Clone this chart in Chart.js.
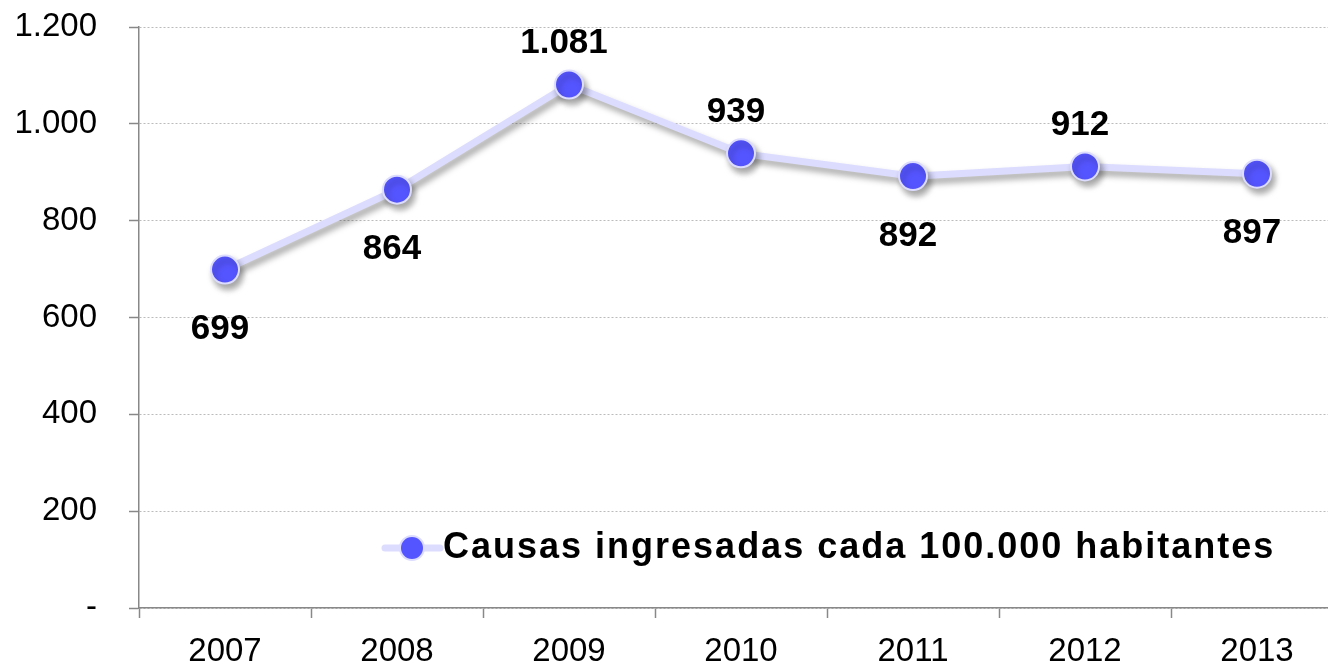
<!DOCTYPE html>
<html>
<head>
<meta charset="utf-8">
<script src="https://cdn.jsdelivr.net/npm/chart.js@4.4.0/dist/chart.umd.min.js"></script>
<style>
  html, body { margin: 0; padding: 0; background: #fff; overflow: hidden; }
</style>
</head>
<body>
<canvas id="causasChart" width="1359" height="665"></canvas>
<script>
// Chart data
const years = ['2007', '2008', '2009', '2010', '2011', '2012', '2013'];
const causas = [699, 864, 1081, 939, 892, 912, 897];
const labelSide = ['below', 'below', 'above', 'above', 'below', 'above', 'below'];
const seriesName = 'Causas ingresadas cada 100.000 habitantes';

const FONT = '"Liberation Sans", Arial, sans-serif';

function formatNumber(v) {
    if (v === 0) return '-';
    return String(v).replace(/\B(?=(\d{3})+(?!\d))/g, '.');
}

// shadow under the line and the points
const shadowPlugin = {
    id: 'shadow',
    beforeDatasetDraw(chart) {
        const c = chart.ctx;
        c.save();
        c.shadowColor = 'rgba(0,0,0,0.35)';
        c.shadowBlur = 6;
        c.shadowOffsetX = 3;
        c.shadowOffsetY = 5;
    },
    afterDatasetDraw(chart) {
        chart.ctx.restore();
    }
};

// value labels above / below points
const valueLabels = {
    id: 'valueLabels',
    afterDatasetsDraw(chart) {
        const c = chart.ctx;
        const meta = chart.getDatasetMeta(0);
        c.save();
        c.font = 'bold 35px ' + FONT;
        c.fillStyle = '#000';
        c.textAlign = 'center';
        c.textBaseline = 'middle';
        meta.data.forEach((pt, i) => {
            const dy = labelSide[i] === 'above' ? -41 : 60;
            c.fillText(formatNumber(causas[i]), pt.x - 5, pt.y + dy);
        });
        c.restore();
    }
};

// legend drawn inside the plot area
const insideLegend = {
    id: 'insideLegend',
    afterDraw(chart) {
        const c = chart.ctx;
        const area = chart.chartArea;
        const x = area.left + 246;
        const y = area.bottom - 60;
        c.save();
        c.strokeStyle = '#dcdcff';
        c.lineWidth = 7;
        c.lineCap = 'round';
        c.beginPath();
        c.moveTo(x, y);
        c.lineTo(x + 55, y);
        c.stroke();
        c.beginPath();
        c.arc(x + 27, y, 12, 0, Math.PI * 2);
        c.fillStyle = '#5555ff';
        c.fill();
        c.lineWidth = 2;
        c.strokeStyle = '#dcdcff';
        c.stroke();
        c.font = 'bold 36px ' + FONT;
        c.letterSpacing = '2px';
        c.fillStyle = '#000';
        c.textBaseline = 'middle';
        c.fillText(seriesName, x + 58, y);
        c.restore();
    }
};

const ctx = document.getElementById('causasChart').getContext('2d');
const causasChart = new Chart(ctx, {
    type: 'line',
    data: {
        labels: years,
        datasets: [{
            label: seriesName,
            data: causas,
            borderColor: '#dcdcff',
            borderWidth: 7,
            pointBackgroundColor: '#5555ff',
            pointBorderColor: '#dcdcff',
            pointBorderWidth: 2,
            pointRadius: 14,
            fill: false,
            tension: 0
        }]
    },
    options: {
        responsive: false,
        animation: false,
        layout: { padding: { top: 27, right: 2, left: 0, bottom: 0 } },
        plugins: {
            legend: { display: false },
            tooltip: { enabled: false }
        },
        scales: {
            x: {
                offset: true,
                grid: {
                    drawOnChartArea: false,
                    offset: true,
                    tickColor: '#888',
                    tickLength: 10,
                    tickWidth: 1.5
                },
                border: { color: '#888', width: 1.5 },
                ticks: {
                    color: '#000',
                    padding: 14,
                    font: { family: FONT, size: 33 }
                },
                afterFit(scale) {
                    scale.height = 57;
                    scale.paddingLeft = 0;
                    scale.paddingRight = 0;
                }
            },
            y: {
                min: 0,
                max: 1200,
                grid: {
                    color: '#bbbbbb',
                    lineWidth: 1,
                    tickColor: '#888',
                    tickLength: 10,
                    tickBorderDash: [],
                    tickWidth: 1.5
                },
                border: { color: '#888', width: 1.5, dash: [2, 2] },
                ticks: {
                    stepSize: 200,
                    color: '#000',
                    padding: 32,
                    font: { family: FONT, size: 33 },
                    callback: v => formatNumber(v)
                },
                afterFit(scale) {
                    scale.width = 139;
                    scale.paddingTop = 0;
                    scale.paddingBottom = 0;
                }
            }
        }
    },
    plugins: [shadowPlugin, valueLabels, insideLegend]
});
</script>
</body>
</html>
